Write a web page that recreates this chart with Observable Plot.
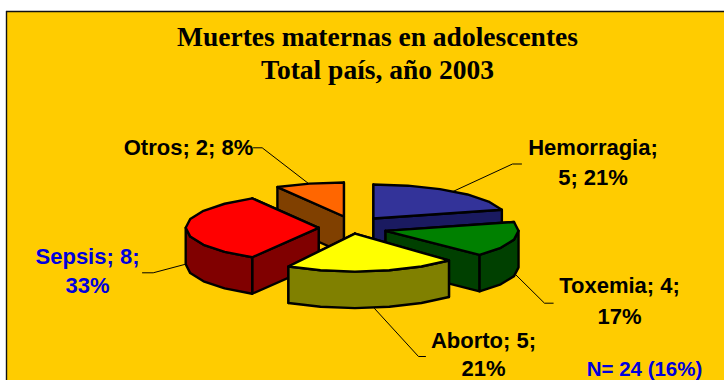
<!DOCTYPE html>
<html>
<head>
<meta charset="utf-8">
<script src="https://cdn.jsdelivr.net/npm/d3@7"></script>
<script src="https://cdn.jsdelivr.net/npm/@observablehq/plot@0.6"></script>
<style>
  html, body { margin: 0; padding: 0; background: #fff; overflow: hidden; }
</style>
</head>
<body>
<div id="chart"></div>
<script>
const titleLines = ["Muertes maternas en adolescentes", "Total país, año 2003"];
const note = "N= 24 (16%)";
const categories = ["Hemorragia", "Toxemia", "Aborto", "Sepsis", "Otros"];
const values = [5, 4, 5, 8, 2];
const percents = [21, 17, 21, 33, 8];
const topColors = ["#333399", "#008000", "#ffff00", "#ff0000", "#ff6600"];
const sideColors = ["#1a1a60", "#004000", "#808000", "#800000", "#804000"];
// Explosion of each slice and the tilt of its ellipse, as a 3D pie setting
const pull = [1, 1, 0.5, 1, 1];
const tilt = [34, 34, 38, 34, 34];
const drawOrder = [4, 0, 3, 1, 2];

const W = 724, H = 380;
const pie = {cx: 352.2, cy: 227.3, rx: 133, depth: 36.5, pullX: 34, pullY: 11.7, step: 15};
const total = d3.sum(values);

// Slice angles (clockwise from the top) come from the values
let acc = 0;
const slices = values.map((v, i) => {
  const a0 = acc; acc += v / total * 360;
  const a1 = acc, mid = (a0 + a1) / 2 * Math.PI / 180;
  return {
    i, a0, a1,
    x: pie.cx + pie.pullX * pull[i] * Math.sin(mid),
    y: pie.cy - pie.pullY * pull[i] * Math.cos(mid),
    ry: tilt[i]
  };
});
const rim = (s, deg) => {
  const t = deg * Math.PI / 180;
  return [s.x + pie.rx * Math.sin(t), s.y - s.ry * Math.cos(t)];
};
const arcAngles = (a0, a1) => {
  const out = [a0];
  for (let a = Math.ceil(a0 / pie.step + 1e-6) * pie.step; a < a1 - 1e-6; a += pie.step) out.push(a);
  out.push(a1);
  return out;
};

const polys = [];
let pid = 0;
const addPoly = (pts, color) => {
  const id = pid++;
  [...pts, pts[0]].forEach(([x, y]) => polys.push({id, x, y, color}));
};
for (const k of drawOrder) {
  const s = slices[k], d = pie.depth;
  const drop = p => [p[0], p[1] + d];
  const apex = [s.x, s.y];
  // Cut faces, the one further back first
  const cuts = [s.a0, s.a1].map(a => {
    const r = rim(s, a);
    return {my: r[1], pts: [apex, r, drop(r), drop(apex)]};
  }).sort((a, b) => a.my - b.my);
  cuts.forEach(c => addPoly(c.pts, sideColors[k]));
  // Outer wall, on the front half only
  const w0 = Math.max(s.a0, 90), w1 = Math.min(s.a1, 270);
  if (w1 > w0) {
    const arc = arcAngles(w0, w1).map(a => rim(s, a));
    addPoly([...arc, ...arc.slice().reverse().map(drop)], sideColors[k]);
  }
  // Top face
  addPoly([apex, ...arcAngles(s.a0, s.a1).map(a => rim(s, a))], topColors[k]);
}

const leaders = [
  [[452.5, 191], [512, 163.5], [521, 163.5]],
  [[515, 274], [544, 302.7], [552.7, 302.7]],
  [[374, 308], [418, 356], [425, 356]],
  [[184, 264], [152.7, 272.3], [142, 272.3]],
  [[308, 183], [261.7, 147.3], [253, 147.3]]
].flatMap((pts, id) => pts.map(([x, y]) => ({id, x, y})));

const black = "#000", blue = "#0000dd";
const t = (c, v, p) => `${c}; ${v}; ${p}%`;
const labels = [
  {x: 592.5, y: 147, s: `${categories[0]};`, c: black},
  {x: 592.5, y: 177, s: `${values[0]}; ${percents[0]}%`, c: black},
  {x: 619, y: 285, s: `${categories[1]}; ${values[1]};`, c: black},
  {x: 619, y: 316, s: `${percents[1]}%`, c: black},
  {x: 483, y: 340, s: `${categories[2]}; ${values[2]};`, c: black},
  {x: 483, y: 368, s: `${percents[2]}%`, c: black},
  {x: 87, y: 256, s: `${categories[3]}; ${values[3]};`, c: blue},
  {x: 87, y: 285, s: `${percents[3]}%`, c: blue},
  {x: 188, y: 147, s: t(categories[4], values[4], percents[4]), c: black}
];

const chart = Plot.plot({
  width: W, height: H,
  margin: 0,
  x: {domain: [0, W], range: [0, W], axis: null},
  y: {domain: [0, H], range: [0, H], axis: null},
  style: {background: "#fff"},
  marks: [
    Plot.rect([{x1: 6, x2: W, y1: 11, y2: H}], {x1: "x1", x2: "x2", y1: "y1", y2: "y2", fill: "#ffcc00"}),
    Plot.ruleX([6], {y1: 11, y2: H, stroke: "#111", strokeWidth: 1.4}),
    Plot.ruleY([11], {x1: 6, x2: W, stroke: "#111", strokeWidth: 1.4}),
    Plot.line(leaders, {x: "x", y: "y", z: "id", stroke: "#000", strokeWidth: 1}),
    Plot.line(polys, {
      x: "x", y: "y", z: "id",
      fill: {value: "color", scale: null},
      stroke: "#000", strokeWidth: 2.4, strokeLinejoin: "round", strokeMiterlimit: 2
    }),
    Plot.text(titleLines, {
      x: () => 377, y: (d, i) => 37 + i * 33,
      text: d => d, fontFamily: "Liberation Serif", fontWeight: "bold", fontSize: 27.5, fill: "#000"
    }),
    Plot.text(labels, {
      x: "x", y: "y", text: "s", fill: {value: "c", scale: null},
      fontFamily: "Liberation Sans", fontWeight: "bold", fontSize: 22
    }),
    Plot.text([note], {
      x: () => 644, y: () => 368.5, text: d => d, fill: blue,
      fontFamily: "Liberation Sans", fontWeight: "bold", fontSize: 20.5
    })
  ]
});
document.getElementById("chart").appendChild(chart);
</script>
</body>
</html>
